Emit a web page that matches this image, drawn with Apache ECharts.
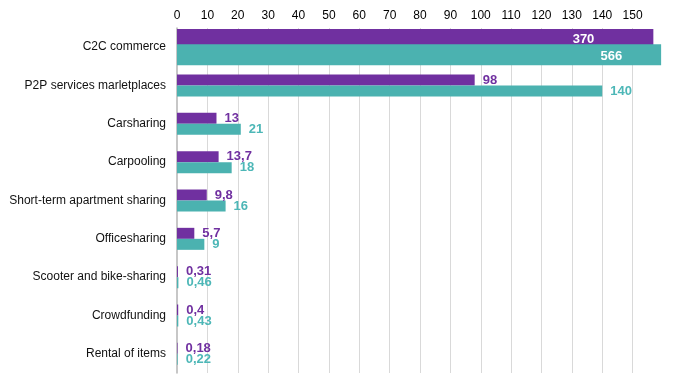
<!DOCTYPE html>
<html>
<head>
<meta charset="utf-8">
<script src="https://cdn.jsdelivr.net/npm/echarts@6/dist/echarts.min.js"></script>
<style>html,body{margin:0;padding:0;background:#fff}#c{width:673px;height:389px}</style>
</head>
<body>
<div id="c"></div>
<script>
const categories = ['C2C commerce','P2P services marletplaces','Carsharing','Carpooling','Short-term apartment sharing','Officesharing','Scooter and bike-sharing','Crowdfunding','Rental of items'];
const purpleValues = [370, 98, 13, 13.7, 9.8, 5.7, 0.31, 0.4, 0.18];
const tealValues = [566, 140, 21, 18, 16, 9, 0.46, 0.43, 0.22];
const tickStep = 10;
const axisBreak = 150; // values above this are drawn on a compressed (broken) scale

const PURPLE = '#7030a0', TEAL = '#4bb2b0', TEAL_TXT = '#4db7b7';
const FONT = 'Liberation Sans, Arial, sans-serif';

function broken(v) { return v <= axisBreak ? v : axisBreak + 0.46 * Math.sqrt(v - axisBreak); }
function fmt(v) { return String(v).replace('.', ','); }

const isBig = v => v > axisBreak;
const normalData = arr => arr.map(v => isBig(v) ? '-' : broken(v));
const bigData = arr => arr.map(v => isBig(v) ? broken(v) : '-');

const chart = echarts.init(document.getElementById('c'), null, {renderer: 'canvas'});
const smallLabel = (arr, color) => ({
  show: true, position: 'right', distance: 8, color: color,
  fontFamily: FONT, fontSize: 13, fontWeight: 'bold',
  formatter: p => fmt(arr[p.dataIndex])
});
chart.setOption({
  animation: false,
  grid: {left: 177, right: 10, top: 28, bottom: 16, containLabel: false},
  xAxis: {
    type: 'value', position: 'top', min: 0, max: 160, interval: tickStep,
    axisLine: {show: false}, axisTick: {show: false},
    axisLabel: {margin: 6, color: '#000', fontFamily: FONT, fontSize: 12,
      formatter: v => v > axisBreak ? '' : String(v)},
    splitLine: {show: true, showMinLine: false, showMaxLine: false, lineStyle: {color: '#d9d9d9', width: 1}}
  },
  yAxis: [{
    type: 'category', data: categories, inverse: true,
    axisLine: {show: true, lineStyle: {color: '#b5b5b5', width: 1.5}},
    axisTick: {show: false},
    axisLabel: {margin: 11, color: '#111', fontFamily: FONT, fontSize: 12}
  }, {
    type: 'category', data: categories, inverse: true, show: false
  }],
  series: [
    {type: 'bar', name: 'A', yAxisIndex: 0, data: normalData(purpleValues), barWidth: 11, barGap: '0%',
      itemStyle: {color: PURPLE}, label: smallLabel(purpleValues, PURPLE)},
    {type: 'bar', name: 'B', yAxisIndex: 0, data: normalData(tealValues), barWidth: 11, barGap: '0%',
      itemStyle: {color: TEAL}, label: smallLabel(tealValues, TEAL_TXT)},
    {type: 'bar', name: 'A', yAxisIndex: 1, data: bigData(purpleValues), barWidth: 17, barGap: '-10%',
      itemStyle: {color: PURPLE},
      label: {show: true, position: 'insideRight', distance: 59, offset: [0, 2], color: '#fff',
        fontFamily: FONT, fontSize: 13, fontWeight: 'bold', formatter: p => fmt(purpleValues[p.dataIndex])}},
    {type: 'bar', name: 'B', yAxisIndex: 1, data: bigData(tealValues), barWidth: 21, barGap: '-10%',
      itemStyle: {color: TEAL},
      label: {show: true, position: 'insideRight', distance: 39, offset: [0, 2], color: '#fff',
        fontFamily: FONT, fontSize: 13, fontWeight: 'bold', formatter: p => fmt(tealValues[p.dataIndex])}}
  ]
});
</script>
</body>
</html>
